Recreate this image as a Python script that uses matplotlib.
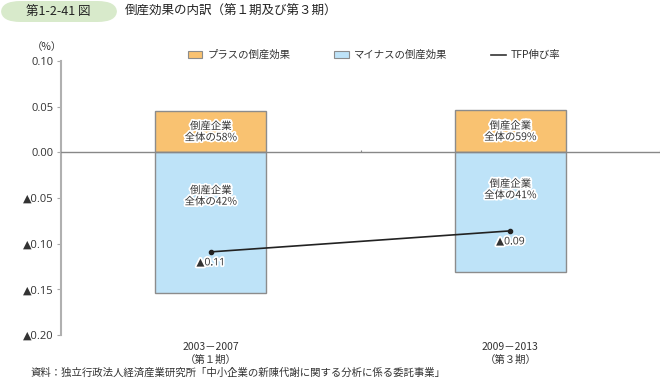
import numpy as np
import matplotlib.pyplot as plt
import matplotlib.patheffects as pe
from matplotlib.patches import FancyBboxPatch, Patch
from matplotlib.lines import Line2D

plt.rcParams['font.family'] = ['Noto Sans CJK JP', 'DejaVu Sans']
num_font = ['Open Sans', 'DejaVu Sans']

periods = ["2003－2007\n（第１期）", "2009－2013\n（第３期）"]
plus_effect = [0.045, 0.046]
minus_effect = [-0.154, -0.131]
tfp = [-0.109, -0.086]
tfp_labels = ["▲0.11", "▲0.09"]
plus_share = ["倒産企業\n全体の58%", "倒産企業\n全体の59%"]
minus_share = ["倒産企業\n全体の42%", "倒産企業\n全体の41%"]
yticks = [0.10, 0.05, 0.00, -0.05, -0.10, -0.15, -0.20]

orange = "#F9C271"
blue = "#BEE3F8"
edge = "#8C8C8C"
txt = "#333333"

def fmt(v):
    return "▲%.2f" % -v if v < 0 else "%.2f" % v

fig = plt.figure(figsize=(6.6, 3.81), dpi=100)
ax = fig.add_axes([61 / 660, 1 - 335 / 381, 599 / 660, 274 / 381])

x = np.arange(len(periods))
w = 0.37
ax.bar(x, plus_effect, w, color=orange, edgecolor=edge, linewidth=1.0, zorder=2)
ax.bar(x, minus_effect, w, color=blue, edgecolor=edge, linewidth=1.0, zorder=2)
ax.axhline(0, color="#888888", linewidth=1.0, zorder=3)
ax.vlines([0.5, 1.5], 0, 0.003, color="#888888", linewidth=0.8, zorder=3)
ax.plot(x, tfp, color="#222222", linewidth=1.2, marker="o", markersize=3, zorder=4)

stroke = [pe.withStroke(linewidth=2.5, foreground="white")]
for i in range(len(periods)):
    ax.text(x[i], plus_effect[i] / 2, plus_share[i], ha="center", va="center",
            fontsize=7.5, color=txt, linespacing=1.15, path_effects=stroke, zorder=5)
    ax.text(x[i], minus_effect[i] * 0.31, minus_share[i], ha="center", va="center",
            fontsize=7.5, color=txt, linespacing=1.15, path_effects=stroke, zorder=5)
    ax.text(x[i], tfp[i] - 0.012, tfp_labels[i], ha="center", va="center",
            fontsize=7.5, color=txt, family=num_font, path_effects=stroke, zorder=5)

ax.set_xlim(-0.5, 1.5)
ax.set_ylim(-0.20, 0.10)
ax.set_yticks(yticks)
ax.set_yticklabels([fmt(v) for v in yticks], fontsize=8, color=txt, family=num_font)
ax.tick_params(axis="y", length=3, color="#aaaaaa", pad=2)
ax.set_xticks([])
for s in ["top", "right", "bottom"]:
    ax.spines[s].set_visible(False)
ax.spines["left"].set_color("#b0b0b0")
ax.spines["left"].set_linewidth(1.5)

for i, p in enumerate(periods):
    ax.text(x[i], -0.208, p, ha="center", va="top", fontsize=7.5, color=txt,
            linespacing=1.3, clip_on=False)

fig.text(47 / 660, 1 - 47 / 381, "（%）", ha="center", va="center", fontsize=7.5, color=txt)

handles = [Patch(facecolor=orange, edgecolor=edge, linewidth=0.8),
           Patch(facecolor=blue, edgecolor=edge, linewidth=0.8),
           Line2D([0], [0], color="#333333", linewidth=1.2)]
labels = ["プラスの倒産効果", "マイナスの倒産効果", "TFP伸び率"]
fig.legend(handles, labels, loc="center", bbox_to_anchor=(374 / 660, 1 - 55 / 381),
           ncol=3, frameon=False, fontsize=7.5, handlelength=1.4, handleheight=0.55,
           columnspacing=4.2, handletextpad=0.5, labelcolor=txt)

# title badge
badge = FancyBboxPatch((1 / 660, 1 - 22 / 381), 116 / 660, 21 / 381,
                       boxstyle="round,pad=0,rounding_size=0.03",
                       transform=fig.transFigure, facecolor="#D8EACB", edgecolor="none")
fig.patches.append(badge)
fig.text(58 / 660, 1 - 11.5 / 381, "第1-2-41 図", ha="center", va="center",
         fontsize=9, color="#222222")
fig.text(125 / 660, 1 - 11.5 / 381, "倒産効果の内訳（第１期及び第３期）", ha="left", va="center",
         fontsize=9, color="#222222")

fig.text(31 / 660, 1 - 373 / 381,
         "資料：独立行政法人経済産業研究所「中小企業の新陳代謝に関する分析に係る委託事業」",
         ha="left", va="center", fontsize=7.5, color=txt)

fig.savefig("out.png", dpi=100)
